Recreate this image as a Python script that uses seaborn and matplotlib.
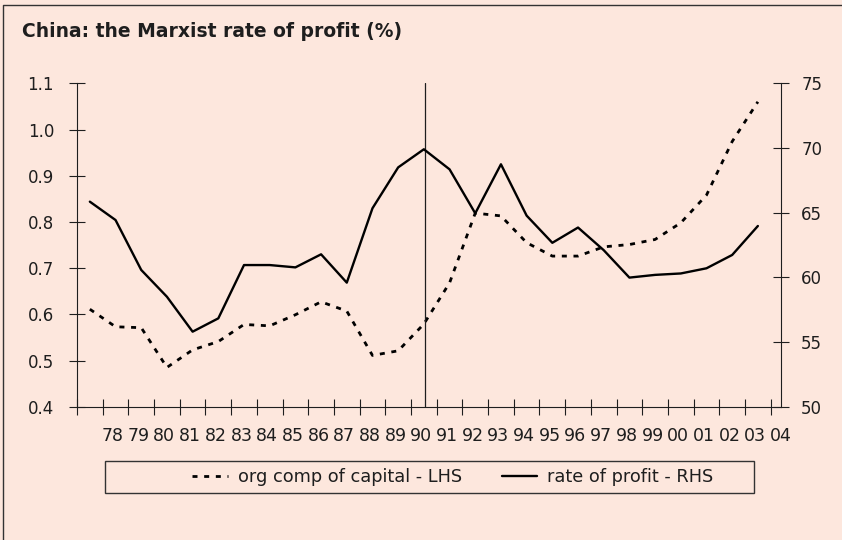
import matplotlib
matplotlib.use("Agg")
import matplotlib.pyplot as plt
from matplotlib.lines import Line2D
from matplotlib.patches import Rectangle
import seaborn as sns
import numpy as np
import pandas as pd

# data (years 1978-2004)
years = ["78", "79", "80", "81", "82", "83", "84", "85", "86", "87",
         "88", "89", "90", "91", "92", "93", "94", "95", "96", "97",
         "98", "99", "00", "01", "02", "03", "04"]
org_comp = [0.611, 0.573, 0.571, 0.485, 0.523, 0.541, 0.578, 0.575, 0.599, 0.627,
            0.607, 0.511, 0.521, 0.579, 0.668, 0.819, 0.813, 0.755, 0.726, 0.726,
            0.746, 0.751, 0.762, 0.798, 0.858, 0.974, 1.06]
profit_rate = [65.85, 64.43, 60.57, 58.5, 55.8, 56.83, 60.95, 60.95, 60.77, 61.78,
               59.59, 65.34, 68.5, 69.9, 68.35, 64.95, 68.74, 64.77, 62.67, 63.85,
               62.1, 59.98, 60.19, 60.3, 60.7, 61.73, 63.97]
lhs_ticks = [0.4, 0.5, 0.6, 0.7, 0.8, 0.9, 1.0, 1.1]
rhs_ticks = [50, 55, 60, 65, 70, 75]
break_year = "91"

df = pd.DataFrame({"year": years, "org_comp": org_comp, "profit": profit_rate})
df["pos"] = np.arange(len(df))

sns.set_theme(style="ticks")
plt.rcParams["font.family"] = ["DejaVu Sans"]

BG = "#FDE7DD"
INK = "#1e1e1e"
W, H = 842, 540

fig = plt.figure(figsize=(8.42, 5.4), dpi=100, facecolor=BG)
ax = fig.add_axes([77 / W, 1 - 406.7 / H, (781 - 77) / W, (406.7 - 83.3) / H])
ax.set_facecolor(BG)
ax2 = ax.twinx()

dash = (0, (1.8, 2.4))
sns.lineplot(data=df, x="pos", y="org_comp", ax=ax, color="black",
             linewidth=2.0, linestyle=dash, dash_capstyle="butt")
sns.lineplot(data=df, x="pos", y="profit", ax=ax2, color="black",
             linewidth=1.7)

# thin divider line around 1990/91
ax.axvline(years.index(break_year) + 0.06, color=INK, linewidth=0.9)

ax.set_xlim(-0.5, len(years) - 0.5)
ax.set_ylim(0.4, 1.1)
ax2.set_ylim(50, 75)
ax.set_yticks(lhs_ticks)
ax.set_yticklabels([f"{v:.1f}" for v in lhs_ticks])
ax2.set_yticks(rhs_ticks)
ax2.set_yticklabels([str(v) for v in rhs_ticks])

ax.set_xticks(np.arange(-0.5, len(years)), labels=[])
ax.set_xticks(np.arange(len(years)) + 0.9, labels=years, minor=True)

for a in (ax, ax2):
    a.set_xlabel("")
    a.set_ylabel("")
    a.grid(False)
    for s in a.spines.values():
        s.set_color(INK)
        s.set_linewidth(0.8)
ax.spines["top"].set_visible(False)
ax.spines["right"].set_visible(False)
ax2.spines["top"].set_visible(False)
ax2.spines["left"].set_visible(False)
ax2.spines["bottom"].set_visible(False)

ax.tick_params(axis="both", which="major", direction="inout", length=11,
               width=0.8, color=INK, labelcolor=INK, labelsize=12)
ax.tick_params(axis="y", pad=11)
ax.tick_params(axis="x", which="minor", length=0, pad=14.5,
               labelsize=12.5, labelcolor=INK)
ax2.tick_params(axis="y", direction="inout", length=11, width=0.8,
                color=INK, labelcolor=INK, labelsize=12, pad=9)

fig.text(21.7 / W, 1 - 36.5 / H, "China: the Marxist rate of profit (%)",
         fontsize=13.5, fontweight="bold", color=INK, va="baseline", ha="left")

# outer frame (top and left edges visible in the crop)
fig.add_artist(Line2D([3 / W, 3 / W, 1], [0, 1 - 5 / H, 1 - 5 / H],
                      transform=fig.transFigure, color="#333333", linewidth=1.0))

# legend box
fig.add_artist(Rectangle((105 / W, 1 - 493 / H), (754 - 105) / W, 32 / H,
                         transform=fig.transFigure, fill=False,
                         edgecolor="#333333", linewidth=1.0))
handles = [Line2D([], [], color="black", linewidth=2.0, linestyle=dash,
                  dash_capstyle="butt"),
           Line2D([], [], color="black", linewidth=1.7)]
fig.legend(handles, ["org comp of capital - LHS", "rate of profit - RHS"],
           loc="center", bbox_to_anchor=(453 / W, 1 - 477 / H), ncol=2,
           frameon=False, fontsize=12.8, handlelength=2.0, handletextpad=0.55,
           columnspacing=2.25, borderpad=0, borderaxespad=0, labelcolor=INK)

fig.savefig("out.png", dpi=100, facecolor=BG)
